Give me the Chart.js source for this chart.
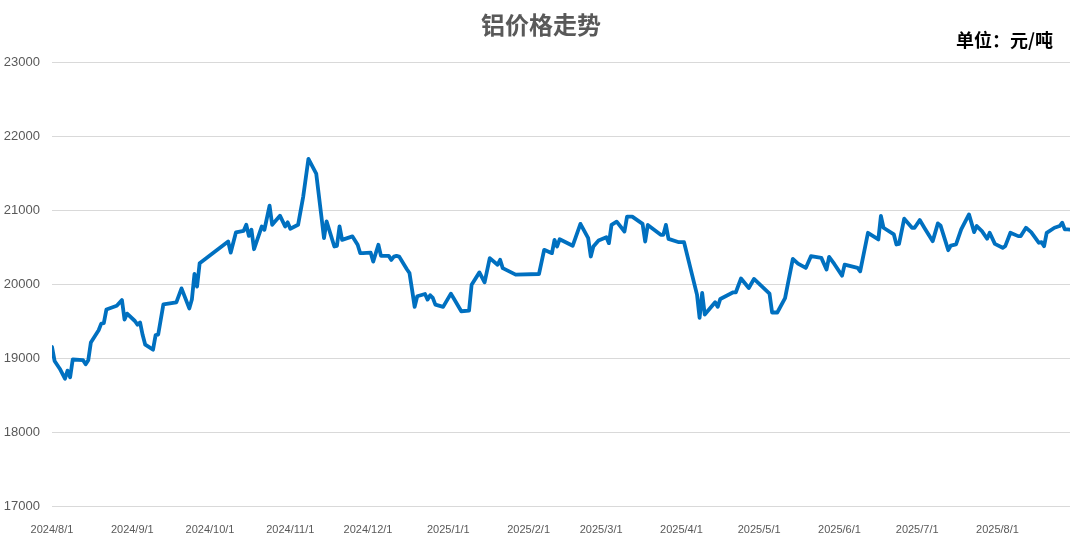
<!DOCTYPE html>
<html><head><meta charset="utf-8">
<script src="https://cdn.jsdelivr.net/npm/chart.js@4/dist/chart.umd.min.js"></script>
<style>html,body{margin:0;padding:0;background:#fff}#wrap{width:1080px;height:536px}</style>
</head><body><div id="wrap"><canvas id="c" width="1080" height="536"></canvas></div>
<script>
const titleText = '铝价格走势';
const unitText = '单位：元/吨';
const monthLabels = ['2024/8/1','2024/9/1','2024/10/1','2024/11/1','2024/12/1','2025/1/1','2025/2/1','2025/3/1','2025/4/1','2025/5/1','2025/6/1','2025/7/1','2025/8/1'];
const yTicks = [17000,18000,19000,20000,21000,22000,23000];
const dates = [
'2024-08-01','2024-08-02','2024-08-04','2024-08-06','2024-08-07','2024-08-08','2024-08-09','2024-08-13','2024-08-14','2024-08-15',
'2024-08-16','2024-08-19','2024-08-20','2024-08-21','2024-08-22','2024-08-26','2024-08-28','2024-08-29','2024-08-30','2024-09-02',
'2024-09-03','2024-09-04','2024-09-05','2024-09-06','2024-09-09','2024-09-10','2024-09-11','2024-09-13','2024-09-18','2024-09-20',
'2024-09-23','2024-09-24','2024-09-25','2024-09-26','2024-09-27','2024-10-08','2024-10-09','2024-10-11','2024-10-14','2024-10-15',
'2024-10-16','2024-10-17','2024-10-18','2024-10-21','2024-10-22','2024-10-24','2024-10-25','2024-10-28','2024-10-30','2024-10-31',
'2024-11-01','2024-11-04','2024-11-06','2024-11-08','2024-11-11','2024-11-13','2024-11-14','2024-11-15','2024-11-18','2024-11-19',
'2024-11-20','2024-11-21','2024-11-25','2024-11-27','2024-11-28','2024-11-29','2024-12-02','2024-12-03','2024-12-05','2024-12-06',
'2024-12-09','2024-12-10','2024-12-11','2024-12-12','2024-12-13','2024-12-16','2024-12-17','2024-12-18','2024-12-19','2024-12-20',
'2024-12-23','2024-12-24','2024-12-25','2024-12-26','2024-12-27','2024-12-30','2025-01-02','2025-01-03','2025-01-06','2025-01-09',
'2025-01-10','2025-01-13','2025-01-15','2025-01-17','2025-01-20','2025-01-21','2025-01-22','2025-01-27','2025-02-05','2025-02-07',
'2025-02-10','2025-02-11','2025-02-12','2025-02-13','2025-02-18','2025-02-21','2025-02-24','2025-02-25','2025-02-26','2025-02-28',
'2025-03-03','2025-03-04','2025-03-05','2025-03-07','2025-03-10','2025-03-11','2025-03-13','2025-03-17','2025-03-18','2025-03-19',
'2025-03-24','2025-03-25','2025-03-26','2025-03-27','2025-03-31','2025-04-02','2025-04-07','2025-04-08','2025-04-09','2025-04-10',
'2025-04-14','2025-04-15','2025-04-16','2025-04-21','2025-04-22','2025-04-24','2025-04-27','2025-04-29','2025-05-05','2025-05-06',
'2025-05-08','2025-05-11','2025-05-14','2025-05-16','2025-05-19','2025-05-21','2025-05-25','2025-05-27','2025-05-28','2025-05-30',
'2025-06-02','2025-06-03','2025-06-08','2025-06-09','2025-06-12','2025-06-16','2025-06-17','2025-06-18','2025-06-22','2025-06-23',
'2025-06-24','2025-06-26','2025-06-29','2025-06-30','2025-07-02','2025-07-04','2025-07-07','2025-07-09','2025-07-10','2025-07-13',
'2025-07-14','2025-07-16','2025-07-18','2025-07-21','2025-07-23','2025-07-24','2025-07-26','2025-07-28','2025-07-29','2025-07-31',
'2025-08-03','2025-08-04','2025-08-06','2025-08-09','2025-08-10','2025-08-12','2025-08-14','2025-08-17','2025-08-18','2025-08-19',
'2025-08-20','2025-08-23','2025-08-25','2025-08-26','2025-08-27','2025-08-28','2025-08-29'
];
const values = [
19150,18960,18855,18720,18830,18740,18980,18970,18915,18970,
19210,19375,19465,19470,19655,19705,19783,19520,19600,19500,
19450,19480,19310,19180,19113,19310,19317,19724,19751,19941,
19670,19790,20136,19964,20280,20575,20425,20697,20719,20800,
20650,20733,20470,20778,20733,21059,20800,20923,20778,20833,
20747,20800,21185,21692,21493,20914,20620,20846,20507,20516,
20778,20597,20643,20530,20416,20416,20425,20303,20530,20380,
20380,20326,20370,20380,20370,20200,20148,19924,19691,19834,
19865,19789,19848,19812,19722,19691,19870,19812,19632,19641,
19991,20157,20022,20350,20260,20327,20215,20126,20135,20462,
20417,20596,20507,20605,20516,20812,20619,20372,20507,20587,
20632,20552,20798,20843,20709,20910,20910,20812,20574,20798,
20664,20664,20798,20610,20565,20565,19857,19543,19879,19587,
19753,19691,19798,19888,19888,20075,19946,20068,19869,19615,
19615,19810,20339,20276,20217,20376,20353,20195,20367,20271,
20113,20262,20217,20172,20692,20602,20919,20760,20670,20534,
20543,20882,20760,20760,20864,20747,20579,20819,20792,20457,
20520,20534,20738,20941,20701,20783,20715,20611,20692,20543,
20489,20511,20692,20647,20647,20760,20701,20557,20566,20511,
20692,20760,20783,20828,20738,20738,20735
];

const DAY = 86400000;
function toUTC(s){const p=s.split(/[-\/]/).map(Number);return Date.UTC(p[0],p[1]-1,p[2]);}
const origin = toUTC(dates[0]);
const dayIdx = s => (toUTC(s)-origin)/DAY;
const points = dates.map((d,i)=>({x:dayIdx(d), y:values[i]}));
const monthVals = monthLabels.map(dayIdx);

const header = {
  id:'header',
  afterDraw(chart){
    const c = chart.ctx;
    c.save();
    c.textBaseline='middle';
    c.fillStyle='#595959';
    c.font='bold 24px "Noto Sans CJK SC"';
    c.textAlign='center';
    c.fillText(titleText, 541, 25);
    c.fillStyle='#000000';
    c.font='bold 18px "Noto Sans CJK SC"';
    c.textAlign='right';
    c.fillText(unitText, 1053, 40);
    c.restore();
  }
};

new Chart(document.getElementById('c'), {
  type:'line',
  data:{datasets:[{
    data:points,
    borderColor:'#0070C0',
    borderWidth:3.8,
    pointRadius:0,
    tension:0,
    borderJoinStyle:'round',
    borderCapStyle:'round',
    fill:false
  }]},
  options:{
    responsive:false,
    animation:false,
    devicePixelRatio:1,
    layout:{padding:{top:62,left:0,right:10,bottom:0}},
    plugins:{legend:{display:false},title:{display:false},tooltip:{enabled:false}},
    scales:{
      x:{
        type:'linear',
        min:0,
        max:points[points.length-1].x,
        grid:{display:false},
        border:{display:false},
        afterFit(s){s.height=30;},
        afterBuildTicks(axis){axis.ticks = monthVals.map(v=>({value:v}));},
        ticks:{
          autoSkip:false,maxRotation:0,minRotation:0,padding:9,
          color:'#595959',
          font:{family:'"Liberation Sans"',size:11},
          callback(v){const i=monthVals.indexOf(v);return i>=0?monthLabels[i]:'';}
        }
      },
      y:{
        min:yTicks[0],max:yTicks[yTicks.length-1],
        afterFit(s){s.width=52;},
        afterBuildTicks(axis){axis.ticks = yTicks.map(v=>({value:v}));},
        grid:{color:'#D9D9D9',lineWidth:1,drawTicks:false},
        border:{display:false},
        ticks:{padding:12,color:'#595959',font:{family:'"Liberation Sans"',size:13},callback:v=>String(v)}
      }
    }
  },
  plugins:[header]
});
</script></body></html>
